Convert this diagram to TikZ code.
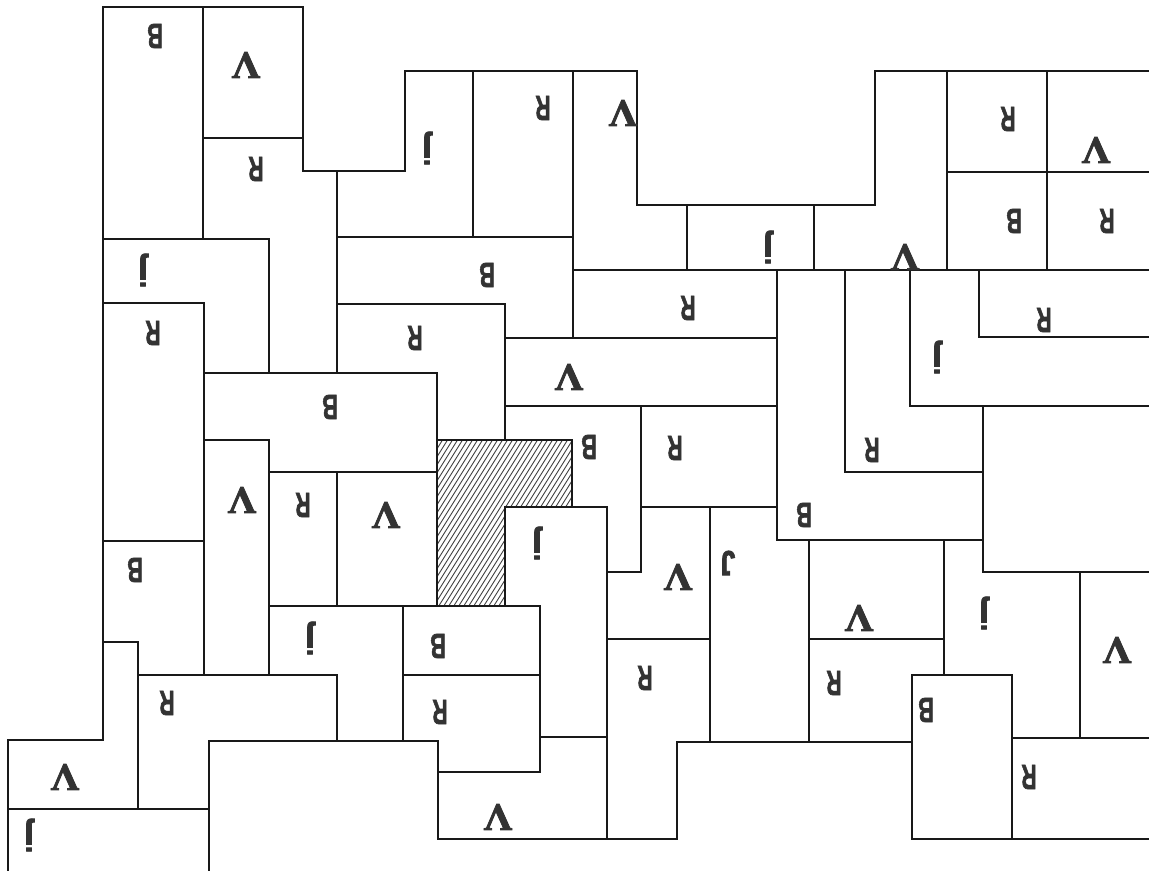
\documentclass[tikz,border=0pt]{standalone}
\usepackage{graphicx}
\usepackage{fontspec}
\usepackage{tikz}
\usetikzlibrary{positioning}
\newfontfamily\tilesans[FakeBold=2.2]{Liberation Sans Bold}
\newfontfamily\tileserif[FakeBold=2]{Liberation Serif Bold}
\tikzset{
  edge/.style  ={draw=black!90,line width=1pt,line join=miter},
  hatch/.style ={draw=black!75,line width=0.45pt},
  tag/.style   ={font=\fontsize{17.5}{17.5}\selectfont\tilesans,text=black!80,
                 rotate=180,inner sep=0pt},
}
% upside-down tile letters, narrowed like the printed ones
\newcommand{\pcB}{\scalebox{.62}[1]{B}}
\newcommand{\pcR}{\scalebox{.6}[1]{R}}
\newcommand{\pcV}{{\tileserif\scalebox{1.15}[1.1]{V}}}
\newcommand{\pcj}{j}
\newcommand{\pcJ}{\scalebox{.75}[1]{J}}

\begin{document}
\begin{tikzpicture}[x=0.5pt,y=-0.5pt]
\useasboundingbox (0,0) rectangle (1149,871);
\clip (0,0) rectangle (1149,871);

% ===== hatched tile =======================================================
\begin{scope}
  \clip (437,440) -- (572,440) -- (572,507) -- (505,507) -- (505,606)
        -- (437,606) -- cycle;
  \foreach \b in {300,305,...,600}{\draw[hatch] (\b,620) -- ++(125,-200);}
\end{scope}
\draw[edge] (437,440) -- (572,440) -- (572,507) -- (505,507) -- (505,606)
      -- (437,606) -- cycle;

% ===== left column ========================================================
\draw[edge] (103,7) -- (203,7) -- (203,239) -- (103,239) -- cycle;
\draw[edge] (203,7) -- (303,7) -- (303,138) -- (203,138) -- cycle;
\draw[edge] (203,138) -- (303,138) -- (303,171) -- (337,171) -- (337,373)
      -- (269,373) -- (269,239) -- (203,239) -- cycle;
\draw[edge] (103,239) -- (269,239) -- (269,373) -- (204,373) -- (204,303)
      -- (103,303) -- cycle;
\draw[edge] (103,303) -- (204,303) -- (204,541) -- (103,541) -- cycle;
\draw[edge] (204,373) -- (437,373) -- (437,472) -- (269,472) -- (269,440)
      -- (204,440) -- cycle;
\draw[edge] (204,440) -- (269,440) -- (269,675) -- (204,675) -- cycle;
\draw[edge] (269,472) -- (337,472) -- (337,606) -- (269,606) -- cycle;
\draw[edge] (337,472) -- (437,472) -- (437,606) -- (337,606) -- cycle;
\draw[edge] (103,541) -- (204,541) -- (204,675) -- (138,675) -- (138,642)
      -- (103,642) -- cycle;
\draw[edge] (269,606) -- (403,606) -- (403,741) -- (337,741) -- (337,675)
      -- (269,675) -- cycle;
\draw[edge] (138,675) -- (337,675) -- (337,741) -- (209,741) -- (209,809)
      -- (138,809) -- cycle;
\draw[edge] (103,642) -- (138,642) -- (138,809) -- (8,809) -- (8,740)
      -- (103,740) -- cycle;
\draw[edge] (8,880) -- (8,809) -- (209,809) -- (209,880);

% ===== middle =============================================================
\draw[edge] (405,71) -- (473,71) -- (473,237) -- (337,237) -- (337,171)
      -- (405,171) -- cycle;
\draw[edge] (473,71) -- (573,71) -- (573,237) -- (473,237) -- cycle;
\draw[edge] (573,71) -- (637,71) -- (637,205) -- (687,205) -- (687,270)
      -- (573,270) -- cycle;
\draw[edge] (337,237) -- (573,237) -- (573,338) -- (505,338) -- (505,304)
      -- (337,304) -- cycle;
\draw[edge] (337,304) -- (505,304) -- (505,440) -- (437,440) -- (437,373)
      -- (337,373) -- cycle;
\draw[edge] (687,205) -- (814,205) -- (814,270) -- (687,270) -- cycle;
\draw[edge] (573,270) -- (777,270) -- (777,338) -- (573,338) -- cycle;
\draw[edge] (505,338) -- (777,338) -- (777,406) -- (505,406) -- cycle;
\draw[edge] (505,406) -- (641,406) -- (641,572) -- (607,572) -- (607,507)
      -- (572,507) -- (572,440) -- (505,440) -- cycle;
\draw[edge] (641,406) -- (777,406) -- (777,507) -- (641,507) -- cycle;
\draw[edge] (505,507) -- (607,507) -- (607,737) -- (540,737) -- (540,606)
      -- (505,606) -- cycle;
\draw[edge] (403,606) -- (540,606) -- (540,675) -- (403,675) -- cycle;
\draw[edge] (403,675) -- (540,675) -- (540,772) -- (438,772) -- (438,741)
      -- (403,741) -- cycle;
\draw[edge] (438,772) -- (540,772) -- (540,737) -- (607,737) -- (607,839)
      -- (438,839) -- cycle;
\draw[edge] (641,507) -- (710,507) -- (710,639) -- (607,639) -- (607,572)
      -- (641,572) -- cycle;
\draw[edge] (607,639) -- (710,639) -- (710,742) -- (677,742) -- (677,839)
      -- (607,839) -- cycle;
\draw[edge] (710,507) -- (777,507) -- (777,540) -- (809,540) -- (809,742)
      -- (710,742) -- cycle;

% ===== right part =========================================================
\draw[edge] (875,71) -- (947,71) -- (947,270) -- (814,270) -- (814,205)
      -- (875,205) -- cycle;
\draw[edge] (947,71) -- (1047,71) -- (1047,172) -- (947,172) -- cycle;
\draw[edge] (1047,71) -- (1160,71) -- (1160,172) -- (1047,172) -- cycle;
\draw[edge] (947,172) -- (1047,172) -- (1047,270) -- (947,270) -- cycle;
\draw[edge] (1047,172) -- (1160,172) -- (1160,270) -- (1047,270) -- cycle;
\draw[edge] (979,270) -- (1160,270) -- (1160,337) -- (979,337) -- cycle;
\draw[edge] (910,270) -- (979,270) -- (979,337) -- (1160,337) -- (1160,406)
      -- (910,406) -- cycle;
\draw[edge] (845,270) -- (910,270) -- (910,406) -- (983,406) -- (983,472)
      -- (845,472) -- cycle;
\draw[edge] (777,270) -- (845,270) -- (845,472) -- (983,472) -- (983,540)
      -- (777,540) -- cycle;
\draw[edge] (983,406) -- (983,572) -- (1160,572);
\draw[edge] (809,540) -- (944,540) -- (944,639) -- (809,639) -- cycle;
\draw[edge] (809,639) -- (944,639) -- (944,675) -- (912,675) -- (912,742)
      -- (809,742) -- cycle;
\draw[edge] (944,540) -- (983,540) -- (983,572) -- (1080,572) -- (1080,738)
      -- (1012,738) -- (1012,675) -- (944,675) -- cycle;
\draw[edge] (1080,572) -- (1160,572) -- (1160,738) -- (1080,738) -- cycle;
\draw[edge] (912,675) -- (1012,675) -- (1012,839) -- (912,839) -- cycle;
\draw[edge] (1012,738) -- (1160,738) -- (1160,839) -- (1012,839) -- cycle;

% ===== letters ============================================================
\node[tag] (b1) at (155,36)  {\pcB};
\node[tag] (b2) at (330,407) {\pcB};
\node[tag] (b3) at (487,275) {\pcB};
\node[tag] (b4) at (1014,221) {\pcB};
\node[tag] (b5) at (804,515) {\pcB};
\node[tag] (b6) at (926,710) {\pcB};
\node[tag] (b7) at (589,447) {\pcB};
\node[tag] (b8) at (438,646) {\pcB};
\node[tag] (b9) at (135,570) {\pcB};

\node[tag] (v1)  at (246,65)  {\pcV};
\node[tag] (v2)  at (623,113) {\pcV};
\node[tag] (v3)  at (569,377) {\pcV};
\node[tag] (v4)  at (1096,150) {\pcV};
\node[tag] (v5)  at (905,257) {\pcV};
\node[tag] (v6)  at (859,618) {\pcV};
\node[tag] (v7)  at (1117,650) {\pcV};
\node[tag] (v8)  at (678,577) {\pcV};
\node[tag] (v9)  at (498,817) {\pcV};
\node[tag] (v10) at (242,500) {\pcV};
\node[tag] (v11) at (386,515) {\pcV};
\node[tag] (v12) at (65,777)  {\pcV};

\node[tag] (r1)  at (256,169) {\pcR};
\node[tag] (r2)  at (153,333) {\pcR};
\node[tag] (r3)  at (543,108) {\pcR};
\node[tag] (r4)  at (415,338) {\pcR};
\node[tag] (r5)  at (688,308) {\pcR};
\node[tag] (r6)  at (1008,119) {\pcR};
\node[tag] (r7)  at (1107,221) {\pcR};
\node[tag] (r8)  at (1044,320) {\pcR};
\node[tag] (r9)  at (872,450) {\pcR};
\node[tag] (r10) at (834,683) {\pcR};
\node[tag] (r11) at (1029,777) {\pcR};
\node[tag] (r12) at (675,448) {\pcR};
\node[tag] (r13) at (645,678) {\pcR};
\node[tag] (r14) at (440,712) {\pcR};
\node[tag] (r15) at (303,505) {\pcR};
\node[tag] (r16) at (167,703) {\pcR};

\node[tag] (j1) at (143,270) {\pcj};
\node[tag] (j2) at (427,148) {\pcj};
\node[tag] (j3) at (768,247) {\pcj};
\node[tag] (j4) at (937,357) {\pcj};
\node[tag] (j5) at (984,613) {\pcj};
\node[tag] (j6) at (537,543) {\pcj};
\node[tag] (j7) at (310,638) {\pcj};
\node[tag] (j8) at (29,835)  {\pcj};
\node[tag] (j9) at (728,563) {\pcJ};
\end{tikzpicture}
\end{document}
